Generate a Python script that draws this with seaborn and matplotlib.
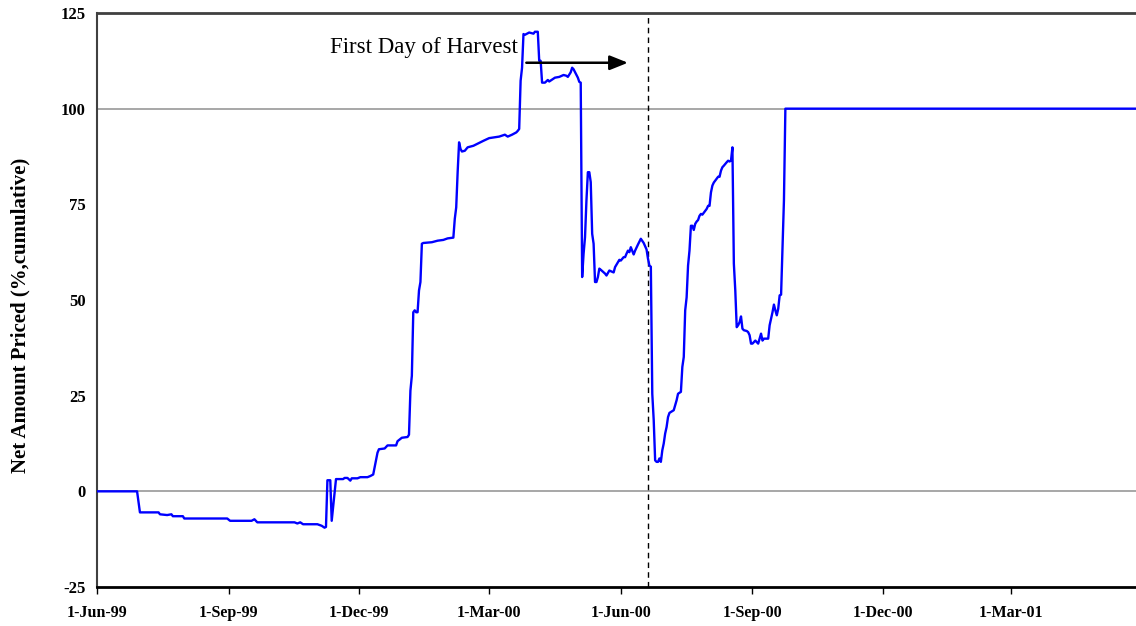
import numpy as np
import pandas as pd
import matplotlib
matplotlib.use('Agg')
import matplotlib.pyplot as plt
import seaborn as sns

# ---------------- data ----------------
start_date = '1999-06-01'
# days since 1-Jun-1999
day = [0, 28, 30, 43, 44, 49, 52, 53, 60, 61, 91, 93, 108, 110, 112, 138, 140, 142, 144, 154,
       157, 159, 160, 161, 163, 164, 167, 172, 173, 175, 177, 178, 182, 184, 189, 191, 193, 196,
       197, 201, 203, 209, 210, 213, 217, 218, 219, 220, 221, 222, 223, 224, 225, 226, 227, 228,
       234, 238, 242, 245, 249, 250, 251, 252, 253, 254, 255, 257, 259, 263, 270, 274, 281, 285,
       287, 290, 293, 294, 295, 296, 297, 298, 299, 302, 305, 306, 308, 309, 310, 311, 313, 315,
       316, 320, 323, 326, 328, 329, 331, 332, 333, 336, 337, 338, 339, 340, 341, 342, 343, 344,
       345, 346, 347, 348, 349, 350, 351, 352, 355, 356, 358, 361, 362, 364, 365, 366, 368, 369,
       370, 371, 372, 373, 375, 376, 378, 380, 382, 384, 385, 386, 387, 388, 389, 390, 391, 392,
       393, 394, 395, 396, 397, 398, 399, 400, 403, 404, 405, 406, 408, 409, 410, 411, 412, 413,
       414, 415, 416, 417, 418, 419, 420, 421, 422, 423, 425, 426, 427, 428, 429, 430, 431, 434,
       435, 436, 437, 438, 440, 441, 442, 443, 444, 445, 446, 447, 448, 449, 450, 451, 452, 454,
       455, 456, 457, 458, 460, 461, 462, 463, 464, 465, 466, 469, 470, 471, 472, 473, 474, 475,
       476, 477, 478, 479, 480, 481, 730]
pct = [0, 0, -5.5, -5.5, -6.0, -6.2, -6.0, -6.5, -6.5, -7.1, -7.1, -7.7, -7.7, -7.3, -8.1, -8.1,
       -8.4, -8.1, -8.6, -8.6, -9.0, -9.5, -9.3, 2.9, 2.9, -7.7, 3.2, 3.2, 3.5, 3.5, 2.8, 3.4, 3.4,
       3.7, 3.7, 4.0, 4.4, 10.1, 11.0, 11.2, 12.0, 12.0, 13.1, 14.0, 14.2, 14.8, 26.3, 30.2, 46.8,
       47.3, 46.8, 46.8, 52.5, 54.7, 64.7, 64.9, 65.1, 65.5, 65.7, 66.1, 66.3, 71.2, 74.2, 83.4,
       91.2, 89.5, 88.8, 89.0, 89.9, 90.3, 91.6, 92.3, 92.7, 93.2, 92.7, 93.2, 93.8, 94.2, 94.7,
       107.3, 110.7, 119.5, 119.3, 119.9, 119.6, 120.1, 120.1, 112.5, 112.5, 106.8, 106.8, 107.5,
       107.1, 108.1, 108.3, 108.8, 108.6, 108.3, 109.5, 110.7, 110.3, 108.1, 107.0, 106.8, 56.0,
       62.1, 66.4, 76.0, 83.4, 83.4, 80.8, 67.3, 64.7, 54.7, 54.7, 56.0, 58.2, 57.9, 56.9, 56.4,
       57.7, 57.2, 58.6, 59.9, 60.5, 60.3, 61.2, 61.2, 62.1, 62.9, 62.5, 63.8, 61.9, 62.9, 64.5,
       66.0, 64.9, 63.2, 60.8, 59.0, 58.7, 25.5, 18.6, 8.1, 7.7, 7.7, 8.6, 7.7, 10.7, 12.5, 15.1,
       16.8, 19.4, 20.5, 21.2, 22.5, 23.8, 25.5, 26.0, 32.5, 35.1, 47.3, 50.7, 59.0, 62.9, 69.4,
       69.4, 68.3, 69.9, 70.5, 70.9, 72.0, 72.5, 72.3, 73.3, 73.8, 74.6, 74.6, 78.1, 79.9, 80.7,
       82.2, 82.2, 83.8, 84.7, 85.1, 86.0, 86.4, 86.2, 86.4, 89.9, 59.5, 52.5, 42.9, 43.4, 44.2,
       45.7, 42.5, 42.1, 41.9, 41.6, 40.8, 38.6, 38.6, 39.4, 39.0, 38.6, 39.9, 41.2, 39.4, 39.9,
       39.9, 43.4, 45.1, 46.8, 48.8, 47.3, 46.0, 47.7, 51.2, 51.4, 63.8, 76.0, 100, 100]

tick_dates = ['1999-06-01', '1999-09-01', '1999-12-01', '2000-03-01',
              '2000-06-01', '2000-09-01', '2000-12-01', '2001-03-01']
tick_labels = ['1-Jun-99', '1-Sep-99', '1-Dec-99', '1-Mar-00',
               '1-Jun-00', '1-Sep-00', '1-Dec-00', '1-Mar-01']
y_ticks = [-25, 0, 25, 50, 75, 100, 125]
ref_levels = [0, 100]
harvest_date = '2000-06-20'
note_text = 'First Day of Harvest'
note_pos = ('2000-03-21', 116)
arrow_from = ('2000-03-27', 112)
arrow_to = ('2000-06-06', 112)
x_end = '2001-05-27'
y_label = 'Net Amount Priced (%,cumulative)'

# ---------------- plot ----------------
t0 = pd.Timestamp(start_date)
df = pd.DataFrame({'date': t0 + pd.to_timedelta(day, unit='D'), 'pct': pct})

sns.set_style('white')
plt.rcParams['font.family'] = ['Liberation Serif', 'DejaVu Serif']
plt.rcParams['text.color'] = 'black'
plt.rcParams['axes.labelcolor'] = 'black'
plt.rcParams['xtick.color'] = 'black'
plt.rcParams['ytick.color'] = 'black'

fig = plt.figure(figsize=(11.36, 6.26), dpi=100)
ax = fig.add_axes([97 / 1136, 39 / 626, 1 - 97 / 1136, 574 / 626])

for lv in ref_levels:
    ax.axhline(lv, color='#a0a0a0', lw=1.3, zorder=1)

sns.lineplot(data=df, x='date', y='pct', estimator=None, sort=False,
             color='#0000FF', lw=1.7, ax=ax, zorder=3)

ax.axvline(pd.Timestamp(harvest_date), color='black', lw=1.0,
           linestyle=(0, (4, 3)), zorder=2)

ax.annotate('', xy=(pd.Timestamp(arrow_to[0]), arrow_to[1]),
            xytext=(pd.Timestamp(arrow_from[0]), arrow_from[1]),
            arrowprops=dict(arrowstyle='-|>,head_length=0.55,head_width=0.22',
                            mutation_scale=20, color='black', lw=1.8,
                            shrinkA=0, shrinkB=0), zorder=4)
ax.text(pd.Timestamp(note_pos[0]), note_pos[1], note_text, ha='right', va='center',
        fontsize=16.5, color='black', family=['Liberation Serif'])

ax.set_xlim(t0, pd.Timestamp(x_end))
ax.set_ylim(-25, 125)
ax.set_xticks(pd.to_datetime(tick_dates))
ax.set_xticklabels(tick_labels, fontsize=11.5, fontweight='bold', color='black')
ax.set_yticks(y_ticks)
ax.set_yticklabels([str(v) for v in y_ticks], fontsize=12, fontweight='bold', color='black')
ax.tick_params(axis='x', direction='out', length=5, width=1, color='black', pad=8,
               bottom=True)
ax.tick_params(axis='y', length=0, pad=8)

ax.set_xlabel('')
ax.set_ylabel(y_label, fontsize=15, fontweight='bold', color='black')
ax.yaxis.set_label_coords(-0.0645, 0.474)

ax.spines['top'].set_color('#404040')
ax.spines['top'].set_linewidth(2)
ax.spines['left'].set_color('#404040')
ax.spines['left'].set_linewidth(1.5)
ax.spines['bottom'].set_color('black')
ax.spines['bottom'].set_linewidth(2)
ax.spines['right'].set_visible(False)
ax.grid(False)

fig.savefig('out.png', dpi=100)
